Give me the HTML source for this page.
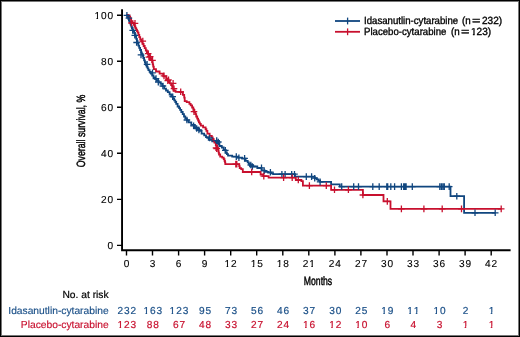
<!DOCTYPE html>
<html><head><meta charset="utf-8"><style>
html,body{margin:0;padding:0;background:#fff}
#w{will-change:transform;text-rendering:geometricPrecision;position:relative;width:520px;height:337px;overflow:hidden;background:#fff;font-family:"Liberation Sans",sans-serif;color:#000}
#b{position:absolute;left:0;top:0;width:520px;height:337px;box-sizing:border-box;border:1px solid #000;box-shadow:inset 0 0 0 1px #777;pointer-events:none}
.t{position:absolute;white-space:nowrap;line-height:1}
.n{font-size:10.1px;letter-spacing:0.9px;-webkit-text-stroke:0.12px currentColor}
.c{transform:translateX(-50%)}
.one{display:inline-block;clip-path:polygon(0 0,100% 0,100% 0.56em,0.36em 0.56em,0.36em 100%,0.19em 100%,0.19em 0.56em,0 0.56em)}
.r{transform:translateX(-100%)}
.bl{color:#1b5088}.rd{color:#c8102e}
.n.bl,.n.rd{-webkit-text-stroke:0.2px currentColor}
</style></head><body><div id="w">

<svg width="520" height="337" viewBox="0 0 520 337" style="position:absolute;left:0;top:0"><path d="M122.05 9.2V250.3H510.6" stroke="#000" stroke-width="1.9" fill="none"/><path d="M117.0 245.40H122M117.0 199.36H122M117.0 153.32H122M117.0 107.28H122M117.0 61.24H122M117.0 15.20H122" stroke="#000" stroke-width="1.4" fill="none"/><path d="M126.5 250.5V255.4M152.5 250.5V255.4M178.6 250.5V255.4M204.6 250.5V255.4M230.7 250.5V255.4M256.7 250.5V255.4M282.8 250.5V255.4M308.8 250.5V255.4M334.9 250.5V255.4M360.9 250.5V255.4M387.0 250.5V255.4M413.0 250.5V255.4M439.1 250.5V255.4M465.1 250.5V255.4M491.2 250.5V255.4" stroke="#000" stroke-width="1.4" fill="none"/><path d="M126.5 15.0H127.1V15.7H127.7V15.7H127.9V17.2H128.3V18.8H128.5V18.8H128.9V20.3H129.3V20.3H129.6V21.9H130.1V23.4H130.4V23.4H130.7V24.9H131.3V26.5H131.6V26.5H131.9V28.1H132.4V29.6H132.7V29.6H133.3V31.5H133.9V31.5H134.2V33.0H134.9V34.5H135.2V34.5H135.5V36.7H136.2V38.9H136.6V38.9H136.9V41.1H137.6V43.4H137.9V43.4H138.3V45.6H139.2V47.8H139.7V47.8H140.1V50.0H141.1V52.3H141.5V52.3H141.8V54.0H142.6V55.8H142.9V55.8H143.3V58.0H144.1V60.3H144.5V60.3H144.9V62.5H145.8V64.8H146.2V64.8H146.6V66.6H147.6V68.3H148.4V70.1H148.9V70.1H149.6V71.9H150.9V73.7H151.6V73.7H152.2V75.5H153.5V77.3H154.2V77.3H155.1V79.0H156.9V80.8H157.8V80.8H158.7V82.3H160.6V83.8H161.5V83.8H162.4V86.2H164.2V88.7H165.1V88.7H166.0V90.5H167.8V92.2H168.7V92.2H169.6V94.5H171.3V96.7H172.2V96.7H172.9V98.5H174.2V100.3H174.9V100.3H175.3V102.0H176.2V103.8H176.7V103.8H177.6V106.5H178.5V106.5H179.1V108.2H180.1V109.8H180.7V109.8H181.3V112.0H182.7V114.2H183.3V114.2H184.0V116.5H185.3V118.7H186.0V118.7H186.9V120.5H188.7V122.3H189.6V122.3H191.3V124.9H193.1V124.9H194.9V127.6H196.7V127.6H198.1V129.8H199.4V129.8H199.6V130.9H199.8V130.9H201.6V133.6H203.3V133.6H204.2V135.3H206.0V137.1H206.9V137.1H208.7V139.8H210.5V139.8H212.2V141.4H214.0V141.4H215.8V143.2H217.6V143.2H219.4V146.0H221.2V146.0H221.8V147.5H222.5V147.5H223.7V149.9H224.9V149.9H225.7V152.5H226.4V152.5H226.9V154.1H228.0V155.6H228.5V155.6H232.2V156.6H235.8V156.6H237.9V157.7H240.0V157.7H242.1V158.7H244.1V158.7H245.6V160.8H247.2V160.8H247.7V162.4H248.8V163.9H249.3V163.9H250.4V165.5H251.4V165.5H253.0V166.5H254.6V166.5H257.3V168.0H260.0V168.0H261.6V170.3H263.1V170.3H264.6V171.8H266.2V171.8H268.1V172.6H270.0V172.6H271.1V173.4H272.3V173.4H273.1V174.2H273.8V174.2H295.0V176.6H314.7V178.2H316.5V179.3H318.3V180.6H320.1V181.9H331.1V184.3H339.8V186.6H450.5V196.2H464.1V212.8H495.2V212.8" stroke="#10467f" stroke-width="1.8" fill="none"/><path d="M126.5 15.0H127.9V15.5H129.3V15.5H129.6V17.0H130.2V18.5H130.5V18.5H131.1V21.1H131.6V21.1H132.6V23.0H133.5V23.0H133.9V24.8H134.6V26.5H135.0V26.5H135.4V28.1H136.2V29.6H136.6V29.6H137.0V31.2H137.7V32.7H138.1V32.7H138.5V34.9H139.3V37.1H139.7V37.1H140.2V39.4H141.3V41.6H141.9V41.6H142.4V43.8H143.6V46.0H144.1V46.0H144.7V48.2H145.8V50.5H146.4V50.5H146.9V52.2H148.1V54.0H148.6V54.0H149.1V56.1H150.2V58.3H150.7V58.3H151.1V60.2H152.1V62.1H152.5V62.1H152.7V64.3H153.2V66.6H153.4V66.6H153.8V69.2H154.2V69.2H156.0V71.5H157.8V71.5H159.6V73.7H161.4V73.7H163.2V76.4H164.9V76.4H166.2V79.0H167.6V79.0H168.3V81.2H169.8V83.3H170.5V83.3H171.1V85.1H172.1V86.9H172.7V86.9H172.9V88.7H173.4V90.5H173.6V90.5H175.6V91.8H177.6V91.8H179.8V92.2H182.0V92.2H182.9V94.9H183.8V94.9H184.2V97.6H184.7V97.6H184.7V101.2H186.7V102.2H188.7V102.2H189.4V103.8H190.7V105.3H191.4V105.3H192.1V107.5H193.3V109.8H194.0V109.8H194.4V112.0H195.4V114.2H195.8V114.2H196.2V116.5H197.2V118.7H197.6V118.7H198.1V120.5H198.9V122.3H199.4V122.3H199.8V123.9H200.8V125.6H201.2V125.6H203.1V127.3H205.1V127.3H205.6V129.1H206.4V130.9H206.9V130.9H207.4V133.6H207.8V133.6H209.6V135.8H211.4V135.8H211.8V137.4H212.7V138.9H213.1V138.9H213.6V140.7H214.4V142.5H214.9V142.5H215.8V145.2H216.7V145.2H217.1V147.3H217.6V147.3H217.8V149.1H218.2V150.9H218.6V152.7H219.0V154.5H219.2V154.5H220.2V156.6H221.2V156.6H222.2V157.7H223.3V157.7H223.7V159.2H224.5V160.8H224.9V160.8H225.0V162.4H225.3V164.1H225.4V164.1H238.9V164.1H239.2V166.1H239.7V168.1H239.9V168.1H241.2V169.1H242.5V169.1H242.8V172.0H243.0V172.0H260.6V174.5H263.2V176.1H268.6V177.7H271.2V177.7H295.8V180.0H301.4V181.2H302.9V185.6H331.1V189.8H362.9V195.0H383.5V201.4H390.5V208.9H501.2V208.9" stroke="#c8102e" stroke-width="1.8" fill="none"/><path d="M126.90 12.00v6.6M123.60 15.30h6.6M128.90 14.90v6.6M125.60 18.20h6.6M132.70 27.10v6.6M129.40 30.40h6.6M134.80 32.00v6.6M131.50 35.30h6.6M136.60 39.20v6.6M133.30 42.50h6.6M141.00 51.60v6.6M137.70 54.90h6.6M147.10 61.00v6.6M143.80 64.30h6.6M152.50 69.50v6.6M149.20 72.80h6.6M156.00 75.30v6.6M152.70 78.60h6.6M158.30 78.90v6.6M155.00 82.20h6.6M162.90 82.70v6.6M159.60 86.00h6.6M172.70 93.40v6.6M169.40 96.70h6.6M186.90 116.70v6.6M183.60 120.00h6.6M193.60 122.50v6.6M190.30 125.80h6.6M196.70 125.20v6.6M193.40 128.50h6.6M198.90 126.70v6.6M195.60 130.00h6.6M209.60 134.70v6.6M206.30 138.00h6.6M216.70 137.30v6.6M213.40 140.60h6.6M218.30 138.70v6.6M215.00 142.00h6.6M225.30 147.10v6.6M222.00 150.40h6.6M236.30 153.30v6.6M233.00 156.60h6.6M238.90 154.40v6.6M235.60 157.70h6.6M244.60 155.10v6.6M241.30 158.40h6.6M250.80 161.70v6.6M247.50 165.00h6.6M252.40 163.20v6.6M249.10 166.50h6.6M261.50 164.50v6.6M258.20 167.80h6.6M264.20 167.40v6.6M260.90 170.70h6.6M270.40 168.90v6.6M267.10 172.20h6.6M281.90 170.90v6.6M278.60 174.20h6.6M285.10 170.90v6.6M281.80 174.20h6.6M291.70 170.90v6.6M288.40 174.20h6.6M294.50 170.90v6.6M291.20 174.20h6.6M306.30 173.30v6.6M303.00 176.60h6.6M311.60 173.30v6.6M308.30 176.60h6.6M314.70 174.90v6.6M311.40 178.20h6.6M320.10 178.60v6.6M316.80 181.90h6.6M341.70 183.30v6.6M338.40 186.60h6.6M353.70 183.30v6.6M350.40 186.60h6.6M358.50 183.30v6.6M355.20 186.60h6.6M372.80 183.30v6.6M369.50 186.60h6.6M379.20 183.30v6.6M375.90 186.60h6.6M386.80 183.30v6.6M383.50 186.60h6.6M387.70 183.30v6.6M384.40 186.60h6.6M390.80 183.30v6.6M387.50 186.60h6.6M394.60 183.30v6.6M391.30 186.60h6.6M401.40 183.30v6.6M398.10 186.60h6.6M403.70 183.30v6.6M400.40 186.60h6.6M405.00 183.30v6.6M401.70 186.60h6.6M406.10 183.30v6.6M402.80 186.60h6.6M412.30 183.30v6.6M409.00 186.60h6.6M439.80 183.30v6.6M436.50 186.60h6.6M441.40 183.30v6.6M438.10 186.60h6.6M442.90 183.30v6.6M439.60 186.60h6.6M444.30 183.30v6.6M441.00 186.60h6.6M449.20 183.30v6.6M445.90 186.60h6.6M456.80 192.90v6.6M453.50 196.20h6.6M475.00 209.50v6.6M471.70 212.80h6.6M495.20 209.50v6.6M491.90 212.80h6.6" stroke="#10467f" stroke-width="1.3" fill="none"/><path d="M131.50 19.70v6.6M128.20 23.00h6.6M135.00 20.10v6.6M131.70 23.40h6.6M142.80 37.80v6.6M139.50 41.10h6.6M148.20 50.30v6.6M144.90 53.60h6.6M148.90 53.90v6.6M145.60 57.20h6.6M150.20 53.40v6.6M146.90 56.70h6.6M152.50 57.00v6.6M149.20 60.30h6.6M164.00 72.60v6.6M160.70 75.90h6.6M167.80 77.40v6.6M164.50 80.70h6.6M168.50 76.60v6.6M165.20 79.90h6.6M173.10 80.00v6.6M169.80 83.30h6.6M174.00 85.40v6.6M170.70 88.70h6.6M180.70 88.50v6.6M177.40 91.80h6.6M194.00 108.30v6.6M190.70 111.60h6.6M216.00 144.50v6.6M212.70 147.80h6.6M216.70 145.40v6.6M213.40 148.70h6.6M235.80 160.80v6.6M232.50 164.10h6.6M236.80 160.80v6.6M233.50 164.10h6.6M251.70 168.70v6.6M248.40 172.00h6.6M263.80 172.80v6.6M260.50 176.10h6.6M283.60 174.40v6.6M280.30 177.70h6.6M292.20 174.40v6.6M288.90 177.70h6.6M298.30 176.70v6.6M295.00 180.00h6.6M309.40 182.30v6.6M306.10 185.60h6.6M326.30 182.30v6.6M323.00 185.60h6.6M334.50 186.50v6.6M331.20 189.80h6.6M348.40 186.50v6.6M345.10 189.80h6.6M362.90 191.70v6.6M359.60 195.00h6.6M387.30 198.10v6.6M384.00 201.40h6.6M401.40 205.60v6.6M398.10 208.90h6.6M423.90 205.60v6.6M420.60 208.90h6.6M442.20 205.60v6.6M438.90 208.90h6.6M461.50 205.60v6.6M458.20 208.90h6.6M501.20 205.60v6.6M497.90 208.90h6.6" stroke="#c8102e" stroke-width="1.3" fill="none"/><path d="M335 21H360" stroke="#10467f" stroke-width="1.8"/><path d="M347.6 17.6V24.4" stroke="#10467f" stroke-width="1.3"/><path d="M335 31.8H360" stroke="#c8102e" stroke-width="1.8"/><path d="M347.6 28.4V35.2" stroke="#c8102e" stroke-width="1.3"/></svg>
<div class="t n r" style="left:114px;top:242.1px">0</div>
<div class="t n r" style="left:114px;top:196.1px">20</div>
<div class="t n r" style="left:114px;top:150.0px">40</div>
<div class="t n r" style="left:114px;top:104.0px">60</div>
<div class="t n r" style="left:114px;top:57.9px">80</div>
<div class="t n r" style="left:114px;top:11.9px"><span class="one">1</span>00</div>
<div class="t n c" style="left:127.0px;top:259.9px">0</div>
<div class="t n c" style="left:153.0px;top:259.9px">3</div>
<div class="t n c" style="left:179.0px;top:259.9px">6</div>
<div class="t n c" style="left:205.1px;top:259.9px">9</div>
<div class="t n c" style="left:231.1px;top:259.9px"><span class="one">1</span>2</div>
<div class="t n c" style="left:257.2px;top:259.9px"><span class="one">1</span>5</div>
<div class="t n c" style="left:283.2px;top:259.9px"><span class="one">1</span>8</div>
<div class="t n c" style="left:309.3px;top:259.9px">2<span class="one">1</span></div>
<div class="t n c" style="left:335.3px;top:259.9px">24</div>
<div class="t n c" style="left:361.4px;top:259.9px">27</div>
<div class="t n c" style="left:387.4px;top:259.9px">30</div>
<div class="t n c" style="left:413.5px;top:259.9px">33</div>
<div class="t n c" style="left:439.5px;top:259.9px">36</div>
<div class="t n c" style="left:465.6px;top:259.9px">39</div>
<div class="t n c" style="left:491.6px;top:259.9px">42</div>
<div class="t" style="left:318px;top:275px;font-size:12px;-webkit-text-stroke:0.45px currentColor;transform:translateX(-50%) scaleX(0.72)">Months</div>
<div class="t" style="left:81.4px;top:131.3px;font-size:12px;-webkit-text-stroke:0.45px currentColor;transform:translate(-50%,-50%) rotate(-90deg) scaleX(0.73)">Overall survival, %</div>
<div class="t" style="left:364.4px;top:16.65px;font-size:10.45px;color:#000;-webkit-text-stroke:0.35px #000;transform-origin:0 0;transform:scaleX(0.922)">Idasanutlin-cytarabine</div>
<div class="t" style="left:462.1px;top:16.65px;font-size:10.45px;color:#000;-webkit-text-stroke:0.35px #000;transform-origin:0 0;transform:scaleX(0.94)">(n</div>
<div class="t" style="left:472.4px;top:16.65px;font-size:10.45px;color:#000;-webkit-text-stroke:0.35px #000;transform-origin:0 0;transform:scaleX(1.38)">=</div>
<div class="t" style="left:482.2px;top:16.65px;font-size:10.45px;color:#000;-webkit-text-stroke:0.35px #000;transform-origin:0 0;transform:scaleX(0.965)">232)</div>
<div class="t" style="left:364.4px;top:28.15px;font-size:10.45px;color:#000;-webkit-text-stroke:0.35px #000;transform-origin:0 0;transform:scaleX(0.922)">Placebo-cytarabine</div>
<div class="t" style="left:450.8px;top:28.15px;font-size:10.45px;color:#000;-webkit-text-stroke:0.35px #000;transform-origin:0 0;transform:scaleX(0.94)">(n</div>
<div class="t" style="left:461.4px;top:28.15px;font-size:10.45px;color:#000;-webkit-text-stroke:0.35px #000;transform-origin:0 0;transform:scaleX(1.38)">=</div>
<div class="t" style="left:470.6px;top:28.15px;font-size:10.45px;color:#000;-webkit-text-stroke:0.35px #000;transform-origin:0 0;transform:scaleX(0.965)"><span class="one">1</span>23)</div>
<div class="t r" style="left:108.6px;top:291.3px;font-size:10.25px;color:#000;-webkit-text-stroke:0.2px #000">No. at risk</div>
<div class="t r bl" style="left:108.6px;top:306.7px;font-size:10.25px;-webkit-text-stroke:0.15px currentColor">Idasanutlin-cytarabine</div>
<div class="t r rd" style="left:108.6px;top:321.0px;font-size:10.25px;-webkit-text-stroke:0.15px currentColor">Placebo-cytarabine</div>
<div class="t n c bl" style="left:127.3px;top:306.7px">232</div>
<div class="t n c rd" style="left:127.3px;top:320.6px"><span class="one">1</span>23</div>
<div class="t n c bl" style="left:153.3px;top:306.7px"><span class="one">1</span>63</div>
<div class="t n c rd" style="left:153.3px;top:320.6px">88</div>
<div class="t n c bl" style="left:179.4px;top:306.7px"><span class="one">1</span>23</div>
<div class="t n c rd" style="left:179.4px;top:320.6px">67</div>
<div class="t n c bl" style="left:205.4px;top:306.7px">95</div>
<div class="t n c rd" style="left:205.4px;top:320.6px">48</div>
<div class="t n c bl" style="left:231.5px;top:306.7px">73</div>
<div class="t n c rd" style="left:231.5px;top:320.6px">33</div>
<div class="t n c bl" style="left:257.5px;top:306.7px">56</div>
<div class="t n c rd" style="left:257.5px;top:320.6px">27</div>
<div class="t n c bl" style="left:283.6px;top:306.7px">46</div>
<div class="t n c rd" style="left:283.6px;top:320.6px">24</div>
<div class="t n c bl" style="left:309.6px;top:306.7px">37</div>
<div class="t n c rd" style="left:309.6px;top:320.6px"><span class="one">1</span>6</div>
<div class="t n c bl" style="left:335.7px;top:306.7px">30</div>
<div class="t n c rd" style="left:335.7px;top:320.6px"><span class="one">1</span>2</div>
<div class="t n c bl" style="left:361.7px;top:306.7px">25</div>
<div class="t n c rd" style="left:361.7px;top:320.6px"><span class="one">1</span>0</div>
<div class="t n c bl" style="left:387.8px;top:306.7px"><span class="one">1</span>9</div>
<div class="t n c rd" style="left:387.8px;top:320.6px">6</div>
<div class="t n c bl" style="left:413.8px;top:306.7px"><span class="one">1</span><span class="one">1</span></div>
<div class="t n c rd" style="left:413.8px;top:320.6px">4</div>
<div class="t n c bl" style="left:439.9px;top:306.7px"><span class="one">1</span>0</div>
<div class="t n c rd" style="left:439.9px;top:320.6px">3</div>
<div class="t n c bl" style="left:465.9px;top:306.7px">2</div>
<div class="t n c rd" style="left:465.9px;top:320.6px"><span class="one">1</span></div>
<div class="t n c bl" style="left:492.0px;top:306.7px"><span class="one">1</span></div>
<div class="t n c rd" style="left:492.0px;top:320.6px"><span class="one">1</span></div>
<div id="b"></div></div></body></html>
